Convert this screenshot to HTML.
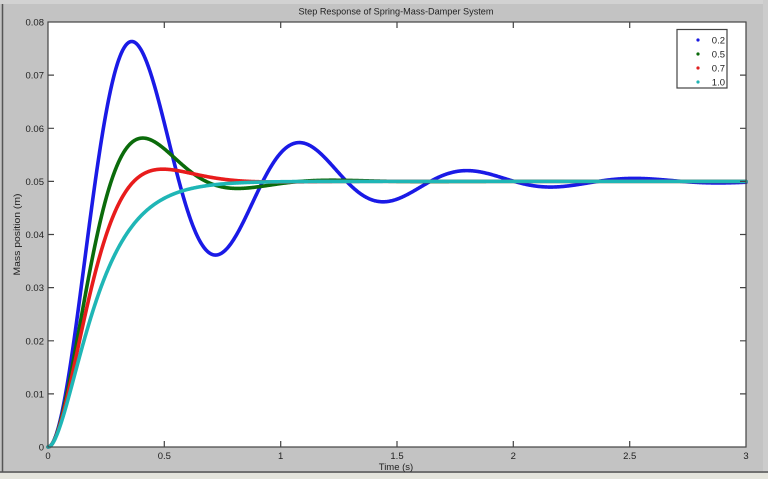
<!DOCTYPE html>
<html><head><meta charset="utf-8"><style>
html,body{margin:0;padding:0;background:#c3c3c3;}
svg{display:block;}
text{font-family:"Liberation Sans",Arial,sans-serif;fill:#222;}
</style></head><body>
<svg id="s" width="768" height="479" viewBox="0 0 768 479" xmlns="http://www.w3.org/2000/svg">
<rect x="0" y="0" width="768" height="479" fill="#c3c3c3"/>
<rect x="0" y="0" width="768" height="4" fill="#d2d2d2"/>
<rect x="763" y="0" width="5" height="479" fill="#cccccc"/>
<rect x="0" y="473" width="768" height="6" fill="#e4e4dc"/>
<line x1="0" y1="472" x2="768" y2="472" stroke="#555" stroke-width="1.5"/>
<line x1="2.5" y1="4" x2="2.5" y2="472" stroke="#555" stroke-width="1.5"/>
<rect x="48" y="22" width="698" height="425" fill="#fff"/>
<g id="curves" fill="none" stroke-width="3.6" stroke-linejoin="round" stroke-linecap="round"></g>
<g stroke="#444" stroke-width="1.2">
<rect x="48" y="22" width="698" height="425" fill="none"/>
<!-- x ticks -->
<path d="M164.3,447v-6M280.7,447v-6M397,447v-6M513.3,447v-6M629.7,447v-6M164.3,22v6M280.7,22v6M397,22v6M513.3,22v6M629.7,22v6"/>
<!-- y ticks -->
<path d="M48,393.9h6M48,340.8h6M48,287.6h6M48,234.5h6M48,181.4h6M48,128.3h6M48,75.1h6M746,393.9h-6M746,340.8h-6M746,287.6h-6M746,234.5h-6M746,181.4h-6M746,128.3h-6M746,75.1h-6"/>
</g>
<g font-size="9.5" text-anchor="end">
<text x="44" y="450.5">0</text>
<text x="44" y="397.4">0.01</text>
<text x="44" y="344.3">0.02</text>
<text x="44" y="291.1">0.03</text>
<text x="44" y="238">0.04</text>
<text x="44" y="184.9">0.05</text>
<text x="44" y="131.8">0.06</text>
<text x="44" y="78.6">0.07</text>
<text x="44" y="25.5">0.08</text>
</g>
<g font-size="9.5" text-anchor="middle">
<text x="48" y="459">0</text>
<text x="164.3" y="459">0.5</text>
<text x="280.7" y="459">1</text>
<text x="397" y="459">1.5</text>
<text x="513.3" y="459">2</text>
<text x="629.7" y="459">2.5</text>
<text x="746" y="459">3</text>
<text x="396" y="470">Time (s)</text>
<text x="396" y="14.5" textLength="195" lengthAdjust="spacingAndGlyphs">Step Response of Spring-Mass-Damper System</text>
<text transform="translate(20,234.5) rotate(-90)" textLength="82" lengthAdjust="spacingAndGlyphs">Mass position (m)</text>
</g>
<rect x="677" y="29.5" width="50" height="58.5" fill="#fff" stroke="#444" stroke-width="1.2"/>
<circle cx="698" cy="40" r="1.6" fill="#1a1ae0"/>
<circle cx="698" cy="54" r="1.6" fill="#0a6a0a"/>
<circle cx="698" cy="68" r="1.6" fill="#e02020"/>
<circle cx="698" cy="82" r="1.6" fill="#20b4b4"/>
<g font-size="9.5" text-anchor="end">
<text x="725" y="43.5">0.2</text>
<text x="725" y="57.5">0.5</text>
<text x="725" y="71.5">0.7</text>
<text x="725" y="85.5">1.0</text>
</g>
</svg>
<script>
(function(){
var g=document.getElementById('curves');
var wn=8.905,A=0.05;
var series=[[0.2,'#1a1ae6'],[0.5,'#0b6b0b'],[0.7,'#e81c1c'],[1.0,'#1fb6b6']];
function X(t){return 48+t*232.667;}
function Y(v){return 447-v*5312.5;}
series.forEach(function(s){
 var z=s[0],d='';
 for(var i=0;i<=1500;i++){
  var t=i*3/1500,v;
  if(z<1){var wd=wn*Math.sqrt(1-z*z);
   v=A*(1-Math.exp(-z*wn*t)*(Math.cos(wd*t)+z/Math.sqrt(1-z*z)*Math.sin(wd*t)));}
  else{v=A*(1-Math.exp(-wn*t)*(1+wn*t));}
  d+=(i?'L':'M')+X(t).toFixed(2)+','+Y(v).toFixed(2);
 }
 var p=document.createElementNS('http://www.w3.org/2000/svg','path');
 p.setAttribute('d',d);p.setAttribute('stroke',s[1]);
 g.appendChild(p);
});
})();
</script>
</body></html>
